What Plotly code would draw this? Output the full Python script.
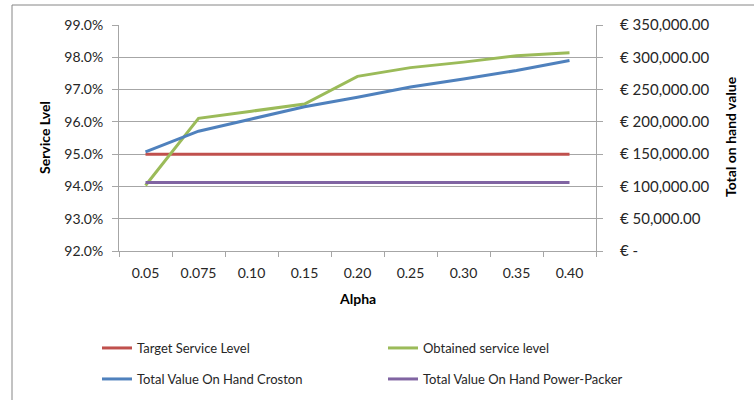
import plotly.graph_objects as go

# Smoothing factor alpha tested for the forecast
alpha = ["0.05", "0.075", "0.10", "0.15", "0.20", "0.25", "0.30", "0.35", "0.40"]

# Service levels (fractions, left axis)
target_service = [0.95, 0.95, 0.95, 0.95, 0.95, 0.95, 0.95, 0.95, 0.95]
obtained_service = [0.9403, 0.9611, 0.9633, 0.9655, 0.9741, 0.9768, 0.9785, 0.9805, 0.9814]

# Total value on hand in euro (right axis)
value_croston = [153500, 185500, 204500, 223500, 238000, 254000, 266500, 279500, 295000]
value_power_packer = [106000, 106000, 106000, 106000, 106000, 106000, 106000, 106000, 106000]

left_ticks = [0.92, 0.93, 0.94, 0.95, 0.96, 0.97, 0.98, 0.99]
right_ticks = [0, 50000, 100000, 150000, 200000, 250000, 300000, 350000]
right_labels = ["€ -", "€ 50,000.00", "€ 100,000.00", "€ 150,000.00",
                "€ 200,000.00", "€ 250,000.00", "€ 300,000.00", "€ 350,000.00"]

RED, GREEN, BLUE, PURPLE = "#C0504D", "#9BBB59", "#4F81BD", "#8064A2"
GRID = "#A6A6A6"
FONT = "Lato"
TXT = "#262626"

fig = go.Figure()
fig.add_trace(go.Scatter(x=alpha, y=target_service, name="Target Service Level",
                         mode="lines", line=dict(color=RED, width=3), legend="legend"))
fig.add_trace(go.Scatter(x=alpha, y=obtained_service, name="Obtained service level",
                         mode="lines", line=dict(color=GREEN, width=3), legend="legend"))
fig.add_trace(go.Scatter(x=alpha, y=value_croston, name="Total Value On Hand Croston",
                         mode="lines", line=dict(color=BLUE, width=3), yaxis="y2",
                         legend="legend2"))
fig.add_trace(go.Scatter(x=alpha, y=value_power_packer, name="Total Value On Hand Power-Packer",
                         mode="lines", line=dict(color=PURPLE, width=3), yaxis="y2",
                         legend="legend2"))

L, R, T, B = 119, 158, 25, 149
W, H = 754, 400
pw, ph = W - L - R, H - T - B


def px_x(x):
    return (x - L) / pw


def px_y(y):
    return (H - B - y) / ph


legend_common = dict(orientation="h", xanchor="left", yanchor="middle",
                     entrywidth=241, entrywidthmode="pixels",
                     font=dict(family=FONT, size=13, color=TXT),
                     bgcolor="rgba(0,0,0,0)", traceorder="normal")

title_font = dict(family=FONT, size=14, color="black")

fig.update_layout(
    width=W, height=H,
    margin=dict(l=L, r=R, t=T, b=B, autoexpand=False),
    paper_bgcolor="white", plot_bgcolor="white",
    font=dict(family=FONT, size=14, color=TXT),
    xaxis=dict(type="category", range=[-0.5, 8.5], showgrid=False, showline=True,
               linecolor=GRID, ticks="outside", tickson="boundaries", ticklen=5,
               tickcolor=GRID, tickfont=dict(family=FONT, size=14, color=TXT),
               ticklabelstandoff=9),
    yaxis=dict(range=[0.92, 0.99], tickvals=left_ticks, tickformat=".1%",
               showgrid=True, gridcolor=GRID, gridwidth=1, showline=True,
               linecolor=GRID, ticks="outside", ticklen=6, tickcolor=GRID,
               tickfont=dict(family=FONT, size=14, color=TXT), ticklabelstandoff=6,
               zeroline=False),
    yaxis2=dict(range=[0, 350000], tickvals=right_ticks, ticktext=right_labels,
                overlaying="y", side="right", showgrid=False, showline=True,
                linecolor=GRID, ticks="outside", ticklen=6, tickcolor=GRID,
                tickfont=dict(family=FONT, size=15, color=TXT), ticklabelstandoff=14,
                zeroline=False),
    legend=dict(x=px_x(97), y=px_y(348), **legend_common),
    legend2=dict(x=px_x(97), y=px_y(379), **legend_common),
    annotations=[
        dict(text="<b>Service Lvel</b>", textangle=-90, xref="paper", yref="paper",
             x=px_x(44), y=px_y(138), xanchor="center", yanchor="middle",
             showarrow=False, font=title_font),
        dict(text="<b>Total on hand value</b>", textangle=-90, xref="paper", yref="paper",
             x=px_x(730), y=px_y(137), xanchor="center", yanchor="middle",
             showarrow=False, font=title_font),
        dict(text="<b>Alpha</b>", xref="paper", yref="paper",
             x=px_x(357), y=px_y(298), xanchor="center", yanchor="middle",
             showarrow=False, font=title_font),
    ],
    shapes=[
        dict(type="rect", xref="paper", yref="paper", layer="below",
             x0=px_x(12), x1=px_x(770), y0=px_y(415), y1=px_y(5),
             line=dict(color="#868686", width=1), fillcolor="rgba(0,0,0,0)"),
    ],
)

fig.write_html("out.html")
